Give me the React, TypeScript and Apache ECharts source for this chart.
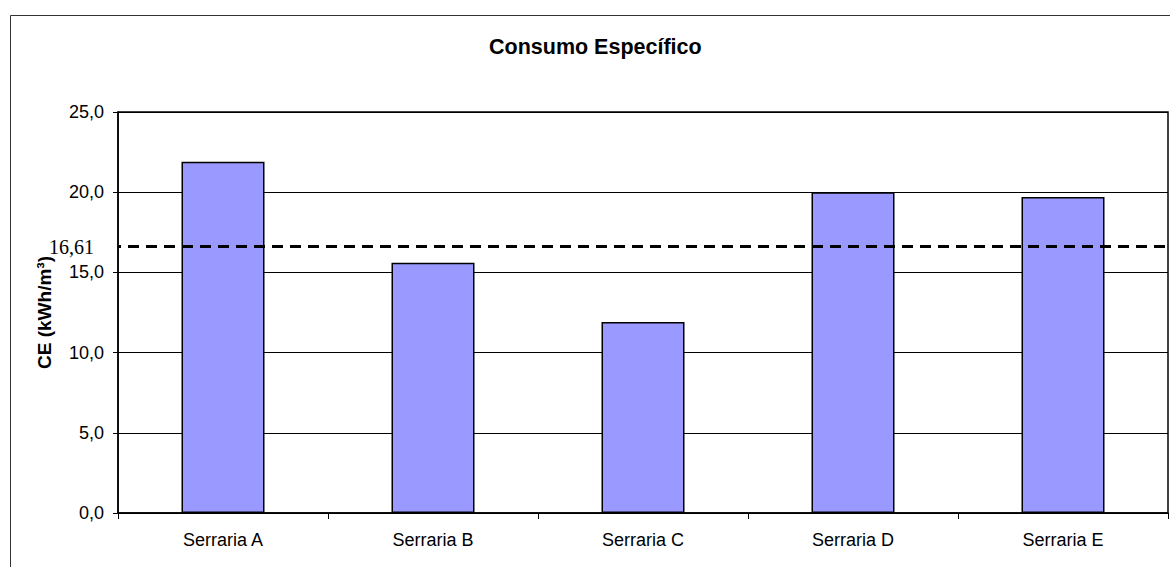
import React, { useEffect, useRef } from "react";
import * as echarts from "echarts";

// Specific energy consumption per sawmill (kWh/m³)
const categories: string[] = ["Serraria A", "Serraria B", "Serraria C", "Serraria D", "Serraria E"];
const consumo: number[] = [21.9, 15.6, 11.9, 20.0, 19.7];
const media: number = 16.61;
const yTicks: number[] = [0, 5, 10, 15, 20, 25];

const fmt = (v: number, d: number) => v.toFixed(d).replace(".", ",");

export default function App() {
  const ref = useRef<HTMLDivElement>(null);

  useEffect(() => {
    if (!ref.current) return;
    const chart = echarts.init(ref.current, undefined, { renderer: "svg" });
    const sans = "'Liberation Sans', Arial, sans-serif";
    const serif = "'Liberation Serif', 'Times New Roman', serif";

    chart.setOption({
      animation: false,
      backgroundColor: "#ffffff",
      title: {
        text: "Consumo Específico",
        left: 489,
        top: 36,
        padding: 0,
        textStyle: { fontFamily: sans, fontSize: 21.5, fontWeight: "bold", color: "#000" },
      },
      graphic: [
        {
          type: "rect",
          shape: { x: 10.5, y: 15.5, width: 1300, height: 700 },
          style: { fill: "none", stroke: "#333", lineWidth: 1 },
          silent: true,
        },
      ],
      grid: {
        left: 118,
        right: 2,
        top: 112,
        bottom: 54,
        show: true,
        borderColor: "#000",
        borderWidth: 1.5,
        backgroundColor: "#fff",
      },
      xAxis: {
        type: "category",
        data: categories,
        boundaryGap: true,
        axisLine: { show: true, lineStyle: { color: "#000", width: 1.5 } },
        axisTick: { show: true, alignWithLabel: false, length: 6, lineStyle: { color: "#000", width: 1 } },
        axisLabel: { color: "#000", fontFamily: sans, fontSize: 18, margin: 18 },
        splitLine: { show: false },
      },
      yAxis: {
        type: "value",
        min: yTicks[0],
        max: yTicks[yTicks.length - 1],
        interval: 5,
        name: "CE (kWh/m³)",
        nameLocation: "middle",
        nameRotate: 90,
        nameGap: 64,
        nameTextStyle: { fontFamily: sans, fontSize: 19, fontWeight: "bold", color: "#000" },
        axisLine: { show: true, lineStyle: { color: "#000", width: 1.5 } },
        axisTick: { show: true, length: 5, lineStyle: { color: "#000", width: 1 } },
        axisLabel: {
          color: "#000",
          fontFamily: sans,
          fontSize: 18,
          margin: 14,
          formatter: (v: number) => fmt(v, 1),
        },
        splitLine: { show: true, lineStyle: { color: "#000", width: 1 } },
      },
      series: [
        {
          type: "bar",
          data: consumo,
          barWidth: 83,
          itemStyle: { color: "#9999FF", borderColor: "#000", borderWidth: 1.5 },
          markLine: {
            silent: true,
            symbol: "none",
            data: [{ yAxis: media }],
            lineStyle: { color: "#000", type: [11, 7], dashOffset: -10, width: 3 },
            label: {
              show: true,
              position: "start",
              distance: 24,
              formatter: () => fmt(media, 2),
              color: "#000",
              fontFamily: serif,
              fontSize: 20,
            },
          },
        },
      ],
    });

    return () => chart.dispose();
  }, []);

  return (
    <div
      ref={ref}
      style={{ position: "fixed", left: 0, top: 0, width: 1170, height: 567, background: "#fff" }}
    />
  );
}
